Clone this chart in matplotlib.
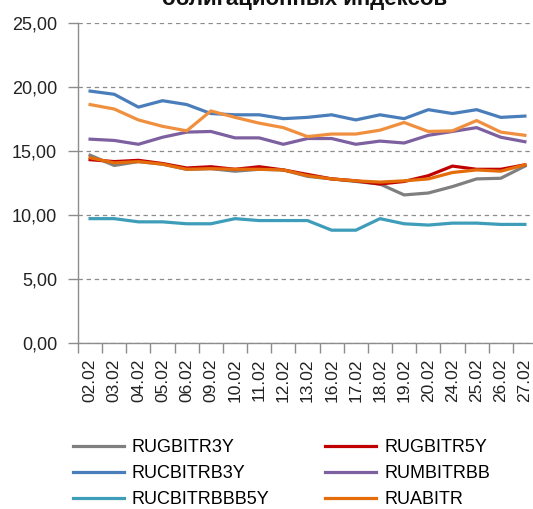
import numpy as np
import matplotlib
matplotlib.use('Agg')
import matplotlib.pyplot as plt

dates = ['02.02', '03.02', '04.02', '05.02', '06.02', '09.02', '10.02', '11.02', '12.02', '13.02',
         '16.02', '17.02', '18.02', '19.02', '20.02', '24.02', '25.02', '26.02', '27.02']

rugbitr3y = [14.65, 13.85, 14.15, 13.95, 13.55, 13.6, 13.4, 13.55, 13.5, 13.0,
             12.8, 12.6, 12.4, 11.55, 11.7, 12.2, 12.8, 12.85, 13.8]
rugbitr5y = [14.3, 14.15, 14.25, 14.0, 13.65, 13.75, 13.55, 13.75, 13.5, 13.15,
             12.8, 12.65, 12.4, 12.6, 13.05, 13.8, 13.55, 13.55, 13.9]
rucbitrb3y = [19.65, 19.4, 18.4, 18.9, 18.6, 17.9, 17.8, 17.8, 17.5, 17.6,
              17.8, 17.4, 17.8, 17.5, 18.2, 17.9, 18.2, 17.6, 17.7]
rumbitrbb = [15.9, 15.8, 15.5, 16.05, 16.45, 16.5, 16.0, 16.0, 15.5, 15.95,
             15.95, 15.5, 15.75, 15.6, 16.2, 16.5, 16.8, 16.05, 15.7]
rucbitrbbb5y = [9.7, 9.7, 9.45, 9.45, 9.3, 9.3, 9.7, 9.55, 9.55, 9.55,
                8.8, 8.8, 9.7, 9.3, 9.2, 9.35, 9.35, 9.25, 9.25]
ruabitr = [14.45, 14.05, 14.15, 13.95, 13.55, 13.6, 13.55, 13.55, 13.5, 13.05,
           12.8, 12.65, 12.55, 12.65, 12.8, 13.3, 13.5, 13.4, 13.9]
# seventh series, its legend entry is cut off in the source picture
extra = [18.6, 18.25, 17.4, 16.9, 16.55, 18.1, 17.6, 17.15, 16.8, 16.1,
         16.3, 16.3, 16.6, 17.2, 16.5, 16.55, 17.35, 16.45, 16.2]

plt.rcParams['font.family'] = ['Liberation Sans', 'DejaVu Sans']

W, H = 533, 509
fig = plt.figure(figsize=(W / 100, H / 100), dpi=100)
ax = fig.add_axes([78 / W, (H - 343) / H, (537 - 78) / W, (343 - 22.5) / H])

x = np.arange(len(dates))
lw = 2.3
series = [
    (rugbitr3y, 'RUGBITR3Y', '#7F7F7F'),
    (rugbitr5y, 'RUGBITR5Y', '#C00000'),
    (rucbitrb3y, 'RUCBITRB3Y', '#4A7EBB'),
    (rumbitrbb, 'RUMBITRBB', '#7D60A0'),
    (rucbitrbbb5y, 'RUCBITRBBB5Y', '#3E9DB8'),
    (ruabitr, 'RUABITR', '#E46C0A'),
]
lines = {}
for vals, name, col in series:
    l, = ax.plot(x, vals, color=col, lw=lw, solid_joinstyle='round')
    lines[name] = l
ax.plot(x, extra, color='#F0903F', lw=lw, solid_joinstyle='round')

ax.set_xlim(-0.5, len(dates) - 0.5)
ax.set_ylim(0, 25)
ax.set_yticks(np.arange(0, 26, 5))
ax.yaxis.set_major_formatter(matplotlib.ticker.FuncFormatter(lambda v, p: ('%.2f' % v).replace('.', ',')))
ax.grid(axis='y', color='#8C8C8C', linestyle=(0, (3.5, 3)), lw=0.9)
ax.set_axisbelow(True)

ax.set_xticks(x)
ax.set_xticklabels(dates, rotation=90)
ax.set_xticks(np.arange(-0.5, len(dates), 1), minor=True)
ax.tick_params(axis='x', which='major', length=0, pad=11, labelsize=12.5, colors='#222222')
ax.tick_params(axis='x', which='minor', length=7, color='#8C8C8C', width=1)
ax.tick_params(axis='y', length=7, width=1, pad=8, labelsize=13, colors='#8C8C8C', labelcolor='#222222')

for s in ['top', 'right']:
    ax.spines[s].set_visible(False)
for s in ['left', 'bottom']:
    ax.spines[s].set_color('#8C8C8C')
    ax.spines[s].set_linewidth(1)

fig.text(305 / W, 1 - 5 / H, 'облигационных индексов', ha='center', va='baseline',
         fontsize=16, fontweight='bold', color='#111111')

order = ['RUGBITR3Y', 'RUCBITRB3Y', 'RUCBITRBBB5Y', 'RUGBITR5Y', 'RUMBITRBB', 'RUABITR']
fig.legend([lines[n] for n in order], order, ncol=2, frameon=False,
           loc='upper left', bbox_to_anchor=(73 / W, 1 - 439 / H),
           fontsize=13, handlelength=2.8, handletextpad=0.45,
           columnspacing=3.1, labelspacing=0.5, borderpad=0, borderaxespad=0)

fig.savefig('out.png', dpi=100)
